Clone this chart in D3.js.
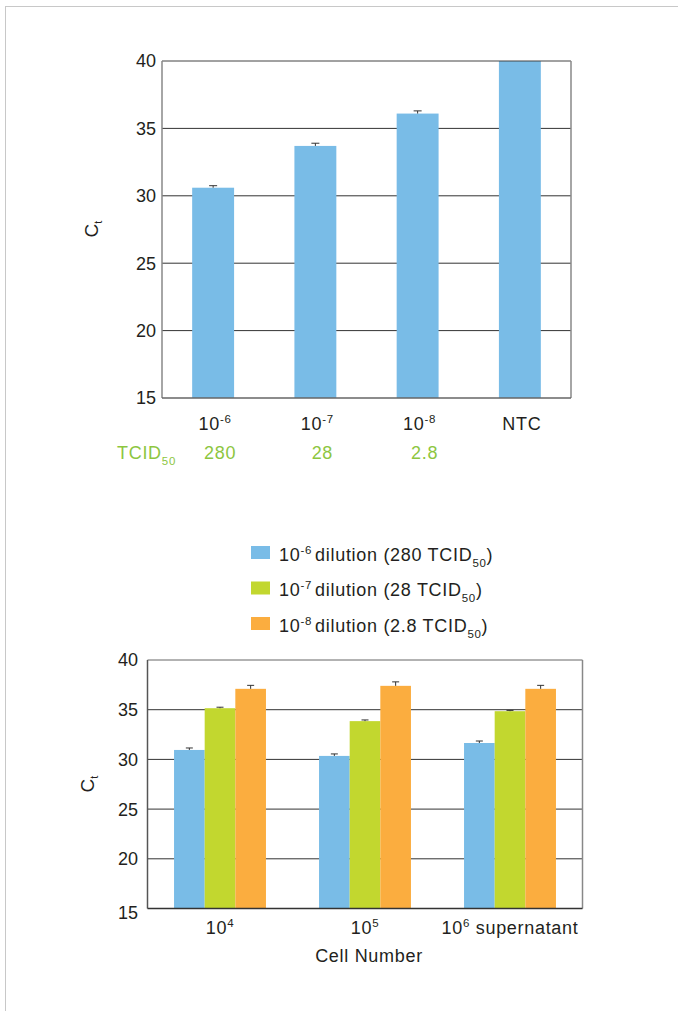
<!DOCTYPE html>
<html><head><meta charset="utf-8">
<script src="https://cdn.jsdelivr.net/npm/d3@7"></script>
<style>
html,body{margin:0;padding:0;background:#fff;}
text{font-family:"Liberation Sans",Arial,Helvetica,sans-serif;fill:#231f20;}
.lbl{font-size:18px;letter-spacing:0.7px;}
</style></head>
<body>
<svg id="c" width="678" height="1011"></svg>
<script>
// ---- Top chart data ----
const topCategories = ["-6", "-7", "-8", "NTC"];
const topValues = [30.6, 33.7, 36.1, 40];
const topErrors = [0.15, 0.2, 0.2, 0];
const tcidValues = ["280", "28", "2.8", ""];
const yTicks = [15, 20, 25, 30, 35, 40];

// ---- Bottom chart data ----
const cellGroups = ["4", "5", "6"];
const cellGroupSuffix = ["", "", " supernatant"];
const seriesNames = ["-6|280", "-7|28", "-8|2.8"];
const series1 = [30.95, 30.35, 31.65];
const series2 = [35.15, 33.85, 34.85];
const series3 = [37.1, 37.4, 37.1];
const err1 = [0.2, 0.2, 0.2];
const err2 = [0.1, 0.12, 0.08];
const err3 = [0.35, 0.4, 0.35];

const colors = ["#79bce7", "#c2d72f", "#fbad3f"];
const tcidColor = "#8dc63f";

const svg = d3.select("#c");

// page border
svg.append("line").attr("x1",5).attr("x2",678).attr("y1",6.5).attr("y2",6.5).attr("stroke","#c8c8c8");
svg.append("line").attr("x1",5.5).attr("x2",5.5).attr("y1",6).attr("y2",1011).attr("stroke","#c8c8c8");

function yLabel(x, y) {
  const t = svg.append("text").attr("transform", `translate(${x},${y}) rotate(-90)`)
    .attr("text-anchor","middle").style("font-size","19px");
  t.append("tspan").text("C");
  t.append("tspan").attr("dy", 4).style("font-size","11px").text("t");
}

// ===== TOP CHART =====
{
  const L = 162, R = 571, T = 61, B = 398;
  const x = d3.scaleBand().domain(topCategories).range([L, R]).paddingInner(0.59).paddingOuter(0.295);
  const y = d3.scaleLinear().domain([15, 40]).range([B, T]);
  const g = svg.append("g");
  g.selectAll(".grid").data(yTicks.filter(d => d > 15 && d < 40)).join("line")
    .attr("x1", L).attr("x2", R).attr("y1", d => y(d)).attr("y2", d => y(d))
    .attr("stroke", "#333").attr("stroke-width", 1);
  g.selectAll(".bar").data(topCategories).join("rect")
    .attr("x", d => x(d)).attr("width", x.bandwidth())
    .attr("y", (d,i) => y(topValues[i])).attr("height", (d,i) => B - y(topValues[i]))
    .attr("fill", colors[0]);
  topCategories.forEach((d,i) => {
    if (!topErrors[i]) return;
    const cx = x(d) + x.bandwidth()/2;
    g.append("line").attr("x1",cx).attr("x2",cx).attr("y1",y(topValues[i])).attr("y2",y(topValues[i]+topErrors[i])).attr("stroke","#333");
    g.append("line").attr("x1",cx-4).attr("x2",cx+4).attr("y1",y(topValues[i]+topErrors[i])).attr("y2",y(topValues[i]+topErrors[i])).attr("stroke","#333");
  });
  g.append("line").attr("x1",L).attr("x2",R).attr("y1",T).attr("y2",T).attr("stroke","#444");
  g.append("line").attr("x1",L).attr("x2",L).attr("y1",T).attr("y2",B).attr("stroke","#888").attr("stroke-width",1.5);
  g.append("line").attr("x1",R).attr("x2",R).attr("y1",T).attr("y2",B).attr("stroke","#888").attr("stroke-width",1.5);
  g.append("line").attr("x1",L).attr("x2",R).attr("y1",B).attr("y2",B).attr("stroke","#666").attr("stroke-width",1.5);
  g.selectAll(".yt").data(yTicks).join("text")
    .attr("x", 156).attr("y", d => y(d)).attr("dy","0.36em").attr("text-anchor","end")
    .style("font-size","18px").text(d => d);
  yLabel(98, 229);
  topCategories.forEach((d,i) => {
    const cx = x(d) + x.bandwidth()/2;
    const t = g.append("text").attr("class","lbl").attr("x", cx + 2).attr("y", 430).attr("text-anchor","middle");
    if (d === "NTC") { t.text("NTC"); }
    else {
      t.append("tspan").text("10");
      t.append("tspan").attr("dy",-7).style("font-size","11.5px").text(d);
    }
    if (tcidValues[i]) {
      g.append("text").attr("class","lbl").attr("x", cx + 7).attr("y", 459).attr("text-anchor","middle")
        .style("fill", tcidColor).text(tcidValues[i]);
    }
  });
  const tc = g.append("text").attr("class","lbl").attr("x",117).attr("y",459).style("fill",tcidColor);
  tc.append("tspan").text("TCID");
  tc.append("tspan").attr("dy",6).style("font-size","11.5px").text("50");
}

// ===== LEGEND =====
{
  const lx = 251, ly0 = 546, step = 35.5;
  seriesNames.forEach((s,i) => {
    const [exp, tc] = s.split("|");
    const yy = ly0 + i*step;
    svg.append("rect").attr("x", lx).attr("y", yy).attr("width",19).attr("height",13).attr("fill",colors[i]);
    const t = svg.append("text").attr("class","lbl").attr("x", 279).attr("y", yy + 14.5);
    t.append("tspan").text("10");
    t.append("tspan").attr("dy",-7).style("font-size","11.5px").text(exp);
    t.append("tspan").attr("dy",7).attr("dx",3).text("dilution (" + tc + " TCID");
    t.append("tspan").attr("dy",6).style("font-size","11.5px").text("50");
    t.append("tspan").attr("dy",-6).text(")");
  });
}

// ===== BOTTOM CHART =====
{
  const L = 147.5, R = 582.5, T = 660, B = 908.5;
  const x0 = d3.scaleBand().domain(cellGroups).range([L, R]).paddingInner(0.366).paddingOuter(0.183);
  const x1 = d3.scaleBand().domain([0,1,2]).range([0, x0.bandwidth()]);
  const y = d3.scaleLinear().domain([15, 40]).range([B, T]);
  const g = svg.append("g");
  g.selectAll(".grid").data(yTicks.filter(d => d > 15 && d < 40)).join("line")
    .attr("x1", L).attr("x2", R).attr("y1", d => y(d)).attr("y2", d => y(d))
    .attr("stroke", "#333").attr("stroke-width", 1);
  const vals = [series1, series2, series3];
  const errs = [err1, err2, err3];
  cellGroups.forEach((grp, gi) => {
    vals.forEach((sv, si) => {
      const bx = x0(grp) + x1(si);
      g.append("rect").attr("x", bx).attr("width", x1.bandwidth())
        .attr("y", y(sv[gi])).attr("height", B - y(sv[gi])).attr("fill", colors[si]);
    });
    vals.forEach((sv, si) => {
      const cx = x0(grp) + x1(si) + x1.bandwidth()/2;
      const top = y(sv[gi] + errs[si][gi]);
      g.append("line").attr("x1",cx).attr("x2",cx).attr("y1",y(sv[gi])).attr("y2",top).attr("stroke","#333");
      g.append("line").attr("x1",cx-3.5).attr("x2",cx+3.5).attr("y1",top).attr("y2",top).attr("stroke","#333");
    });
  });
  g.append("line").attr("x1",L).attr("x2",R).attr("y1",T).attr("y2",T).attr("stroke","#666");
  g.append("line").attr("x1",L).attr("x2",L).attr("y1",T).attr("y2",B).attr("stroke","#555").attr("stroke-width",1.5);
  g.append("line").attr("x1",R).attr("x2",R).attr("y1",T).attr("y2",B).attr("stroke","#888").attr("stroke-width",1.5);
  g.append("line").attr("x1",L).attr("x2",R).attr("y1",B).attr("y2",B).attr("stroke","#333").attr("stroke-width",1.5);
  g.selectAll(".yt").data(yTicks).join("text")
    .attr("x", 138).attr("y", d => y(d) + (d === 15 ? 4 : 0)).attr("dy","0.36em").attr("text-anchor","end")
    .style("font-size","18px").text(d => d);
  yLabel(94, 784);
  cellGroups.forEach((grp, gi) => {
    const cx = x0(grp) + x0.bandwidth()/2;
    const t = g.append("text").attr("class","lbl").attr("x", cx).attr("y", 934).attr("text-anchor","middle");
    t.append("tspan").text("10");
    t.append("tspan").attr("dy",-7).style("font-size","11.5px").text(grp);
    if (cellGroupSuffix[gi]) t.append("tspan").attr("dy",7).text(cellGroupSuffix[gi]);
  });
  g.append("text").attr("class","lbl").attr("x", 369).attr("y", 962).attr("text-anchor","middle").text("Cell Number");
}
</script>
</body></html>
